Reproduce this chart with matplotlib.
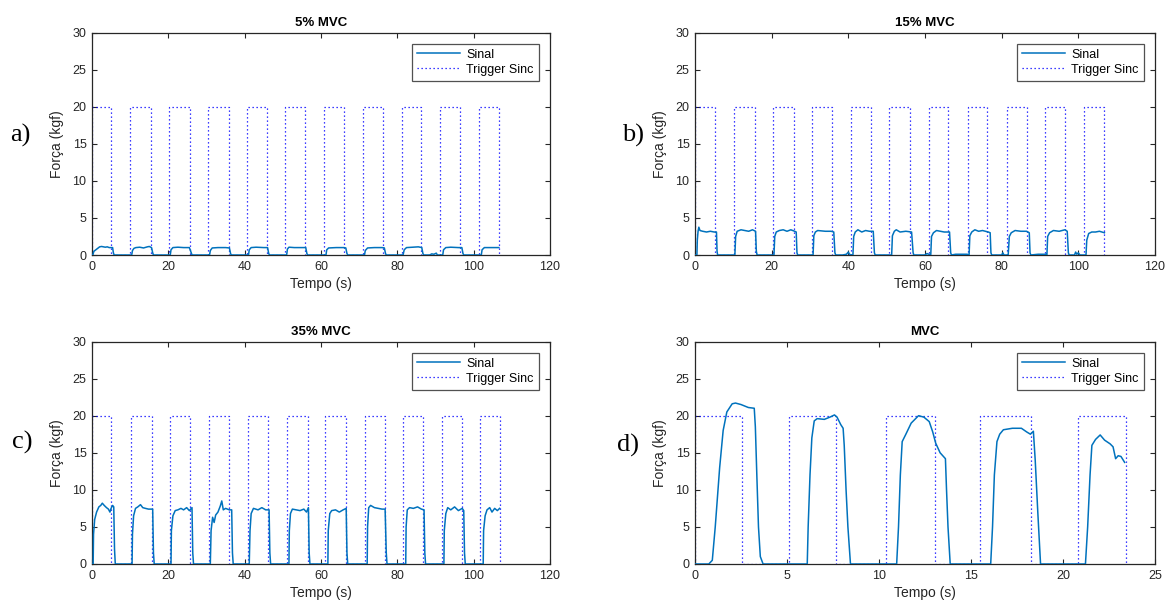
import matplotlib
matplotlib.use("Agg")
import matplotlib.pyplot as plt

# ---------------- data ----------------
panel_titles = ["5% MVC", "15% MVC", "35% MVC", "MVC"]
panel_letters = ["a)", "b)", "c)", "d)"]
x_ticks_long = [0, 20, 40, 60, 80, 100, 120]
x_ticks_mvc = [0, 5, 10, 15, 20, 25]
y_ticks = [0, 5, 10, 15, 20, 25, 30]
trigger_level = 20

trig_a_on = [0, 9.9, 20.1, 30.4, 40.6, 50.6, 60.8, 70.9, 81.1, 91.2, 101.4]
trig_a_off = [5.1, 15.4, 25.6, 35.8, 45.8, 55.9, 66.1, 76.3, 86.3, 96.4, 106.6]
trig_b_on = [0, 10.1, 20.3, 30.5, 40.7, 50.7, 61.0, 71.2, 81.4, 91.2, 101.6]
trig_b_off = [5.3, 15.6, 25.7, 35.8, 45.9, 56.1, 66.1, 76.2, 86.5, 96.5, 106.8]
trig_c_on = [0, 10.1, 20.4, 30.7, 40.9, 51.1, 61.1, 71.5, 81.5, 91.7, 101.7]
trig_c_off = [5.1, 15.7, 25.7, 35.9, 46.1, 56.5, 66.6, 76.7, 86.8, 97.0, 106.9]
trig_d_on = [0, 5.1, 10.4, 15.5, 20.8]
trig_d_off = [2.55, 7.65, 13.07, 18.25, 23.4]

sig_a_t = [0, 0.2, 0.5, 1.0, 1.5, 2.0, 2.5, 3.0, 3.5, 4.0, 4.5, 5.0, 5.4, 5.6, 5.8,
           10.4, 10.6, 11.0, 11.5, 12.5, 13.5, 14.5, 15.0, 15.6, 15.9, 16.1,
           20.5, 20.7, 21.2, 22.5, 24.0, 25.5, 26.0, 26.2,
           30.8, 31.0, 31.5, 33.0, 35.0, 36.0, 36.3, 36.5,
           41.0, 41.2, 41.7, 43.0, 45.0, 46.0, 46.3, 46.5,
           51.0, 51.2, 51.6, 53.0, 55.0, 56.0, 56.3, 56.5,
           61.3, 61.5, 62.0, 64.0, 66.0, 66.5, 66.8, 67.0,
           71.4, 71.6, 72.2, 74.0, 76.0, 76.6, 76.9, 77.1,
           81.5, 81.8, 82.4, 84.0, 85.5, 86.4, 86.7, 86.9,
           88.5, 89.0, 89.6, 90.2, 90.5,
           91.9, 92.1, 92.7, 94.0, 96.0, 96.9, 97.2, 97.4,
           102.0, 102.2, 102.8, 104.0, 106.6]
sig_a_y = [0, 0, 0.5, 0.7, 0.9, 1.1, 1.15, 1.1, 1.05, 1.1, 1.0, 1.0, 1.0, 0.3, 0,
           0, 0.6, 0.9, 1.0, 1.05, 0.95, 1.1, 1.15, 1.0, 0.3, 0,
           0, 0.7, 1.0, 1.05, 1.0, 1.0, 0.3, 0,
           0, 0.6, 0.95, 1.0, 1.0, 0.95, 0.2, 0,
           0, 0.7, 1.0, 1.05, 1.0, 1.0, 0.2, 0,
           0, 0.8, 1.05, 1.0, 1.0, 1.0, 0.2, 0,
           0, 0.7, 0.95, 1.0, 1.0, 0.95, 0.2, 0,
           0, 0.6, 0.95, 1.0, 1.0, 0.95, 0.2, 0,
           0, 0.7, 1.0, 1.05, 1.1, 1.0, 0.2, 0,
           0, 0.15, 0.1, 0.25, 0,
           0, 0.7, 1.0, 1.05, 1.0, 1.0, 0.2, 0,
           0, 0.7, 1.0, 1.0, 1.0]

sig_b_t = [0, 0.5, 0.6, 0.8, 1.0, 1.3, 2.0, 3.0, 4.0, 5.0, 5.6, 5.75, 5.9,
           10.4, 10.6, 11.0, 12.0, 13.0, 14.0, 15.0, 15.8, 16.0, 16.2,
           20.6, 20.8, 21.2, 22.0, 23.0, 24.0, 25.0, 26.0, 26.4, 26.6, 26.8,
           30.8, 31.0, 31.4, 32.0, 34.0, 35.5, 36.2, 36.5, 36.7,
           38.5, 39.5, 40.0, 40.3, 40.8,
           41.2, 41.4, 41.8, 42.5, 43.5, 44.5, 45.5, 46.5, 46.8, 47.0,
           51.3, 51.5, 52.0, 52.5, 53.5, 55.0, 56.5, 56.9, 57.1,
           60.0, 60.5, 61.0,
           61.5, 61.7, 62.2, 63.0, 64.0, 65.0, 66.4, 66.7, 66.9,
           68.0, 71.0,
           71.5, 71.7, 72.2, 73.0, 74.0, 75.0, 76.5, 77.0, 77.2, 77.4,
           80.0, 80.3, 80.6,
           81.7, 82.0, 82.5, 83.5, 85.0, 86.5, 87.2, 87.4, 87.6,
           89.5, 91.5,
           91.8, 92.0, 92.5, 93.5, 95.0, 96.5, 97.1, 97.4, 97.6,
           99.0, 99.3, 99.6, 100.0, 100.4,
           102.0, 102.2, 102.7, 103.5, 104.5, 105.5, 106.8]
sig_b_y = [0, 0, 2.0, 3.2, 3.75, 3.3, 3.2, 3.1, 3.2, 3.1, 3.1, 0.5, 0,
           0, 2.5, 3.2, 3.4, 3.3, 3.2, 3.4, 3.2, 0.5, 0,
           0, 2.5, 3.1, 3.3, 3.4, 3.2, 3.4, 3.2, 3.1, 0.3, 0,
           0, 2.6, 3.1, 3.3, 3.2, 3.2, 3.1, 0.3, 0,
           0, 0.1, 0.4, 0.1, 0,
           0, 2.5, 3.1, 3.4, 3.1, 3.3, 3.2, 3.2, 0.3, 0,
           0, 2.6, 3.2, 3.4, 3.1, 3.2, 3.1, 0.3, 0,
           0, 0.2, 0.1,
           0, 2.5, 3.0, 3.3, 3.2, 3.1, 3.1, 0.3, 0,
           0.1, 0.1,
           0, 2.6, 3.1, 3.4, 3.2, 3.3, 3.1, 3.0, 0.3, 0,
           0, 0.3, 0,
           0, 2.5, 3.0, 3.3, 3.2, 3.2, 3.0, 0.3, 0,
           0.1, 0.1,
           0, 2.5, 3.0, 3.3, 3.2, 3.4, 3.2, 0.3, 0,
           0, 0.4, 0.1, 0.3, 0,
           0, 2.0, 2.9, 3.1, 3.1, 3.2, 3.0]

sig_c_t = [0, 0.3, 0.4, 0.7, 1.2, 1.8, 2.3, 2.7, 3.2, 3.8, 4.3, 4.7, 5.0, 5.4, 5.7, 5.9, 6.1,
           10.5, 10.6, 10.9, 11.4, 12.0, 12.7, 13.3, 14.0, 14.8, 15.5, 15.9, 16.1, 16.3,
           20.7, 20.8, 21.2, 21.8, 22.5, 23.3, 24.0, 24.8, 25.5, 26.2, 26.4, 26.6,
           31.0, 31.2, 31.6, 32.0, 32.4, 33.0, 33.6, 34.0, 34.4, 35.0, 36.0, 36.6, 36.8, 37.0,
           41.2, 41.4, 41.7, 42.3, 43.5, 44.5, 45.5, 46.4, 46.6, 46.8,
           51.6, 51.7, 52.0, 52.5, 53.5, 54.5, 55.5, 56.2, 56.7, 56.9, 57.1,
           61.8, 61.9, 62.3, 62.8, 63.8, 64.8, 65.8, 66.6, 66.8, 67.0,
           72.1, 72.2, 72.5, 73.0, 74.0, 75.0, 76.0, 76.8, 77.1, 77.3,
           82.2, 82.3, 82.6, 83.2, 84.2, 85.3, 86.3, 87.0, 87.2, 87.4,
           92.2, 92.3, 92.7, 93.2, 94.0, 95.0, 96.0, 97.0, 97.4, 97.6, 97.8,
           102.5, 102.6, 103.0, 103.5, 104.2, 104.8, 105.5, 106.2, 106.8]
sig_c_y = [0, 0, 4.0, 6.0, 7.0, 7.7, 7.9, 8.2, 7.9, 7.6, 7.4, 7.0, 7.5, 7.9, 7.7, 2.0, 0,
           0, 4.0, 6.5, 7.5, 7.7, 8.0, 7.6, 7.5, 7.4, 7.4, 7.4, 1.5, 0,
           0, 4.5, 6.5, 7.2, 7.3, 7.5, 7.3, 7.6, 7.2, 7.6, 1.5, 0,
           0, 4.5, 6.3, 5.6, 6.6, 7.0, 7.8, 8.5, 7.3, 7.5, 7.3, 7.3, 1.5, 0,
           0, 4.5, 6.8, 7.5, 7.3, 7.6, 7.3, 7.3, 1.5, 0,
           0, 4.5, 6.8, 7.4, 7.3, 7.2, 7.4, 7.0, 7.6, 1.5, 0,
           0, 4.5, 6.8, 7.2, 7.3, 7.0, 7.3, 7.5, 1.5, 0,
           0, 5.0, 7.6, 7.9, 7.6, 7.5, 7.4, 7.4, 1.5, 0,
           0, 5.0, 7.3, 7.6, 7.5, 7.7, 7.4, 7.3, 1.5, 0,
           0, 4.5, 6.8, 7.6, 7.3, 7.7, 7.2, 7.5, 7.2, 1.5, 0,
           0, 4.5, 6.5, 7.3, 7.6, 7.0, 7.5, 7.2, 7.5]

sig_d_t = [0, 0.75, 0.94, 1.1, 1.34, 1.53, 1.73, 2.02, 2.2, 2.5, 2.9, 3.22, 3.28, 3.36, 3.45, 3.55, 3.7,
           6.1, 6.15, 6.25, 6.35, 6.48, 6.64, 7.03, 7.33, 7.58, 7.72, 7.92, 8.05, 8.11, 8.21, 8.31, 8.45,
           10.96, 11.06, 11.16, 11.26, 11.46, 11.75, 12.15, 12.44, 12.73, 12.92, 13.08, 13.32, 13.61, 13.67, 13.75, 13.87,
           16.07, 16.17, 16.27, 16.41, 16.56, 16.76, 17.25, 17.74, 18.03, 18.23, 18.39, 18.49, 18.63, 18.78,
           21.22, 21.34, 21.47, 21.57, 21.77, 22.02, 22.26, 22.56, 22.72, 22.86, 23.0, 23.15, 23.35]
sig_d_y = [0, 0, 0.5, 5.0, 13.0, 18.0, 20.5, 21.6, 21.7, 21.5, 21.1, 21.0, 18.5, 12.0, 5.0, 1.0, 0,
           0, 5.0, 12.0, 17.0, 19.3, 19.6, 19.5, 19.8, 20.1, 19.8, 18.8, 18.3, 16.0, 10.0, 5.0, 0,
           0, 5.0, 12.0, 16.5, 17.5, 19.0, 20.0, 19.8, 19.2, 17.8, 16.3, 15.0, 14.2, 10.0, 5.0, 0,
           0, 5.0, 12.0, 16.5, 17.5, 18.1, 18.3, 18.3, 17.8, 17.5, 17.9, 14.0, 7.0, 0,
           0, 5.0, 12.0, 16.0, 16.8, 17.4, 16.7, 16.2, 15.8, 14.2, 14.6, 14.5, 13.7]

# ---------------- style ----------------
plt.rcParams['font.family'] = ['Liberation Sans', 'DejaVu Sans']
TXT = '#262626'
SIG_COLOR = '#0072BD'
TRIG_COLOR = '#0000FF'

W, H = 1166, 609
fig = plt.figure(figsize=(W / 100, H / 100), dpi=100)

def frac(left, right, top, bottom):
    return [left / W, 1 - bottom / H, (right - left) / W, (bottom - top) / H]

rects = [frac(92, 550, 32.5, 255), frac(695, 1155, 32.5, 255),
         frac(92, 550, 341.5, 564), frac(695, 1155, 341.5, 564)]
letter_pos = [(20, 135), (633, 135), (22, 442), (628, 445)]

panels = [
    (trig_a_on, trig_a_off, sig_a_t, sig_a_y, x_ticks_long),
    (trig_b_on, trig_b_off, sig_b_t, sig_b_y, x_ticks_long),
    (trig_c_on, trig_c_off, sig_c_t, sig_c_y, x_ticks_long),
    (trig_d_on, trig_d_off, sig_d_t, sig_d_y, x_ticks_mvc),
]

for i, (ton, toff, st, sy, xt) in enumerate(panels):
    ax = fig.add_axes(rects[i])
    tx, ty = [], []
    for a, b in zip(ton, toff):
        tx += [a, a, b, b]
        ty += [0, trigger_level, trigger_level, 0]
    ax.plot(st, sy, color=SIG_COLOR, lw=1.1, label='Sinal', zorder=3)
    ax.plot(tx, ty, color=TRIG_COLOR, lw=0.9, linestyle=(0, (1, 2.2)),
            label='Trigger Sinc', zorder=2)
    ax.set_xlim(xt[0], xt[-1])
    ax.set_ylim(0, 30)
    ax.set_xticks(xt)
    ax.set_yticks(y_ticks)
    ax.tick_params(direction='in', length=3.5, width=0.8, top=True, right=True,
                   labelsize=9, colors=TXT, pad=4)
    for sp in ax.spines.values():
        sp.set_color(TXT)
        sp.set_linewidth(0.9)
    ax.set_title(panel_titles[i], fontsize=9.5, fontweight='bold', color='black', pad=5)
    ax.set_xlabel('Tempo (s)', fontsize=10, color=TXT, labelpad=3)
    ax.set_ylabel('Força (kgf)', fontsize=10, color=TXT, labelpad=6)
    leg = ax.legend(loc='upper right', bbox_to_anchor=(0.975, 0.95), fontsize=9,
                    frameon=True, fancybox=False, handlelength=3.4, borderpad=0.4,
                    labelspacing=0.25, handletextpad=0.5, borderaxespad=0)
    leg.get_frame().set_edgecolor(TXT)
    leg.get_frame().set_linewidth(0.9)
    lx, ly = letter_pos[i]
    fig.text(lx / W, 1 - ly / H, panel_letters[i], family='Liberation Serif',
             fontsize=19, ha='center', va='center', color='black')

fig.savefig('out.png', dpi=100)
